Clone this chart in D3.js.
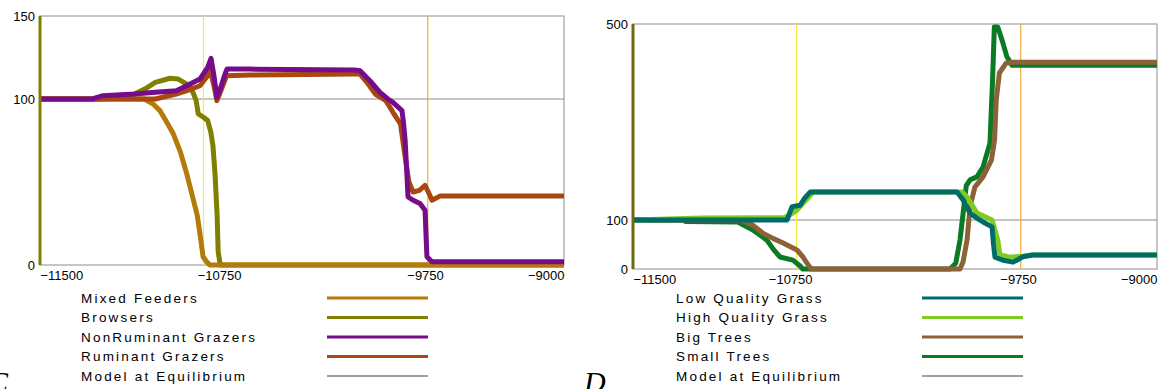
<!DOCTYPE html>
<html>
<head>
<meta charset="utf-8">
<script src="https://cdn.jsdelivr.net/npm/d3@7"></script>
<style>
  body { margin: 0; background: #fff; }
  svg { display: block; font-family: "Liberation Sans", Arial, sans-serif; }
</style>
</head>
<body>
<div id="chart"></div>
<script>
// shared x axis (years)
const xTicks = [-11500, -10750, -9750, -9000];
const eventYears = [-10720, -9650];   // yellow and orange markers
const equilibrium = 100;

// panel C - herbivores
const mixedYears = [-11500, -11000, -10990, -10960, -10928, -10900, -10864, -10830, -10800, -10768, -10750, -10737, -10722, -10705, -10690, -9000];
const mixedValues = [100, 100, 99, 97, 93, 87, 79, 68, 55, 39, 30, 19, 5, 2, 0, 0];

const browserYears = [-11500, -11200, -11100, -11050, -11000, -10950, -10880, -10840, -10800, -10770, -10755, -10745, -10720, -10700, -10685, -10675, -10665, -10655, -10650, -10640, -9000];
const browserValues = [100, 100, 101, 103, 106, 110, 112.5, 112, 109, 104, 99, 91, 89, 87, 80, 72, 55, 30, 8, 0, 0];

const nonRumYears = [-11500, -11250, -11200, -11050, -10950, -10850, -10800, -10737, -10700, -10684, -10670, -10656, -10640, -10620, -10608, -10500, -10000, -9973, -9926, -9878, -9840, -9816, -9773, -9765, -9758, -9744, -9720, -9687, -9663, -9654, -9630, -9000];
const nonRumValues = [100, 100, 102, 103, 104, 105, 108, 112, 119, 124.5, 114, 101, 106, 114, 118, 118, 117.5, 117, 111, 104, 100, 98, 93, 85, 75, 41, 39, 37, 33, 5, 2, 2];

const rumYears = [-11500, -10950, -10850, -10800, -10737, -10700, -10689, -10670, -10656, -10640, -10610, -10500, -10000, -9973, -9940, -9900, -9850, -9816, -9780, -9760, -9740, -9720, -9690, -9663, -9640, -9630, -9592, -9000];
const rumValues = [100, 100, 103, 105, 108, 114, 118, 108, 99, 104, 114, 114.5, 115, 115, 110, 103, 99, 92, 85, 67, 50, 44, 45, 48, 42, 39, 41.5, 41.5];

// panel D - vegetation
const lowYears = [-11500, -10765, -10755, -10741, -10703, -10680, -10655, -9954, -9925, -9892, -9860, -9830, -9787, -9780, -9773, -9735, -9687, -9660, -9640, -9592, -9000];
const lowValues = [100, 100, 112, 127, 130, 145, 157, 157, 141, 114, 104, 96, 86, 50, 24, 18, 14, 20, 25, 28.5, 28.5];

const highYears = [-11500, -11170, -10780, -10760, -10718, -10640, -9930, -9906, -9859, -9787, -9760, -9749, -9701, -9640, -9600, -9000];
const highValues = [100, 104, 105, 108, 120, 157, 157, 147, 114, 100, 60, 28.5, 24, 26, 28.5, 28.5];

const bigYears = [-11500, -10990, -10930, -10880, -10830, -10784, -10718, -10690, -10670, -10650, -9940, -9925, -9906, -9892, -9869, -9830, -9790, -9775, -9767, -9752, -9720, -9687, -9000];
const bigValues = [100, 100, 90, 73, 62, 53, 39, 25, 12, 0, 0, 15, 60, 127, 167, 188, 222, 263, 345, 400, 420, 422, 422];

const smallYears = [-11500, -11260, -11250, -11000, -10930, -10861, -10830, -10799, -10737, -10700, -10690, -9987, -9960, -9940, -9925, -9910, -9892, -9870, -9859, -9830, -9797, -9785, -9776, -9760, -9749, -9735, -9716, -9692, -9000];
const smallValues = [100, 100, 97, 96, 80, 59, 40, 24.5, 18, 5, 0, 0, 12, 59, 114, 170, 182, 186, 188, 208, 257, 380, 494, 494, 480, 461, 433, 416, 416];

const herbNames = ["Mixed Feeders", "Browsers", "NonRuminant Grazers", "Ruminant Grazers", "Model at Equilibrium"];
const herbColors = ["#b47a0a", "#7f8000", "#760c8c", "#a8480f", "#a0a0a0"];
const vegNames = ["Low Quality Grass", "High Quality Grass", "Big Trees", "Small Trees", "Model at Equilibrium"];
const vegColors = ["#006c68", "#7ecb22", "#8c6238", "#0a7a24", "#a0a0a0"];

const svg = d3.select("#chart").append("svg")
    .attr("width", 1161)
    .attr("height", 389);

function drawPanel(p) {
    const x = d3.scaleLinear().domain([-11500, -9000]).range([p.left, p.right]);
    const y = d3.scaleLinear().domain([0, p.yMax]).range([p.bottom, p.top]);
    const g = svg.append("g");

    // frame
    g.append("rect")
        .attr("x", p.left).attr("y", p.top)
        .attr("width", p.right - p.left).attr("height", p.bottom - p.top)
        .attr("fill", "none").attr("stroke", "#a0a0a0").attr("stroke-width", 1.2);

    // equilibrium line
    g.append("line")
        .attr("x1", p.left).attr("x2", p.right)
        .attr("y1", y(equilibrium)).attr("y2", y(equilibrium))
        .attr("stroke", "#8a8a8a").attr("stroke-width", 1);

    // event markers
    const markerColors = ["#f6ee3a", "#f7a83a"];
    eventYears.forEach((yr, i) => {
        g.append("line")
            .attr("x1", x(yr)).attr("x2", x(yr))
            .attr("y1", p.top).attr("y2", p.bottom)
            .attr("stroke", markerColors[i]).attr("stroke-width", 1.2);
    });

    // series lines
    const line = d3.line()
        .x(d => x(d[0]))
        .y(d => y(d[1]));
    p.series.forEach(s => {
        g.append("path")
            .datum(d3.zip(s.years, s.values))
            .attr("fill", "none")
            .attr("stroke", s.color)
            .attr("stroke-width", 5)
            .attr("stroke-linejoin", "round")
            .attr("d", line);
    });

    // left axis line
    g.append("line")
        .attr("x1", p.left).attr("x2", p.left)
        .attr("y1", p.top).attr("y2", p.bottom)
        .attr("stroke", p.axisColor).attr("stroke-width", 3);

    const yAxis = g.append("g")
        .attr("transform", `translate(${p.left - 1},0)`)
        .call(d3.axisLeft(y).tickValues(p.yTicks).tickSize(0).tickPadding(4).tickFormat(d3.format("d")));
    yAxis.select(".domain").remove();
    yAxis.selectAll("text").attr("font-size", 13).attr("fill", "#000")
        .attr("font-family", "'Liberation Sans', Arial, sans-serif");

    const xAxis = g.append("g")
        .attr("transform", `translate(0,${p.bottom})`)
        .call(d3.axisBottom(x).tickValues(xTicks).tickSize(0).tickPadding(6).tickFormat(d3.format("d")));
    xAxis.select(".domain").remove();
    xAxis.selectAll("text")
        .attr("font-size", 13).attr("fill", "#000")
        .attr("font-family", "'Liberation Sans', Arial, sans-serif")
        .attr("text-anchor", (d, i) => p.xAnchors[i]);

    // legend
    p.names.forEach((name, i) => {
        const ly = 298 + i * 19.5;
        g.append("text")
            .attr("x", p.legendX).attr("y", ly)
            .attr("dy", "0.35em")
            .attr("font-size", 13.5)
            .attr("letter-spacing", "2.2px")
            .text(name);
        g.append("line")
            .attr("x1", p.legendLine[0]).attr("x2", p.legendLine[1])
            .attr("y1", ly).attr("y2", ly)
            .attr("stroke", p.colors[i])
            .attr("stroke-width", i === p.names.length - 1 ? 2 : 3);
    });

    // panel letter, partly cut by the page edge as in the original figure
    g.append("text")
        .attr("x", p.labelX).attr("y", 392)
        .attr("font-family", "'Liberation Serif', 'Times New Roman', serif")
        .attr("font-style", "italic")
        .attr("font-size", 30)
        .text(p.label);
}

drawPanel({
    left: 40, right: 564, top: 16, bottom: 265, yMax: 150, yTicks: [0, 100, 150],
    axisColor: "#7f8000",
    xAnchors: ["start", "start", "start", "end"],
    names: herbNames, colors: herbColors,
    legendX: 81, legendLine: [327, 428], label: "C", labelX: -12,
    series: [
        { years: browserYears, values: browserValues, color: herbColors[1] },
        { years: mixedYears, values: mixedValues, color: herbColors[0] },
        { years: rumYears, values: rumValues, color: herbColors[3] },
        { years: nonRumYears, values: nonRumValues, color: herbColors[2] }
    ]
});

drawPanel({
    left: 633, right: 1157, top: 24, bottom: 269, yMax: 500, yTicks: [0, 100, 500],
    axisColor: "#6e6a10",
    xAnchors: ["start", "middle", "start", "end"],
    names: vegNames, colors: vegColors,
    legendX: 676, legendLine: [922, 1023], label: "D", labelX: 584,
    series: [
        { years: smallYears, values: smallValues, color: vegColors[3] },
        { years: bigYears, values: bigValues, color: vegColors[2] },
        { years: highYears, values: highValues, color: vegColors[1] },
        { years: lowYears, values: lowValues, color: vegColors[0] }
    ]
});
</script>
</body>
</html>
